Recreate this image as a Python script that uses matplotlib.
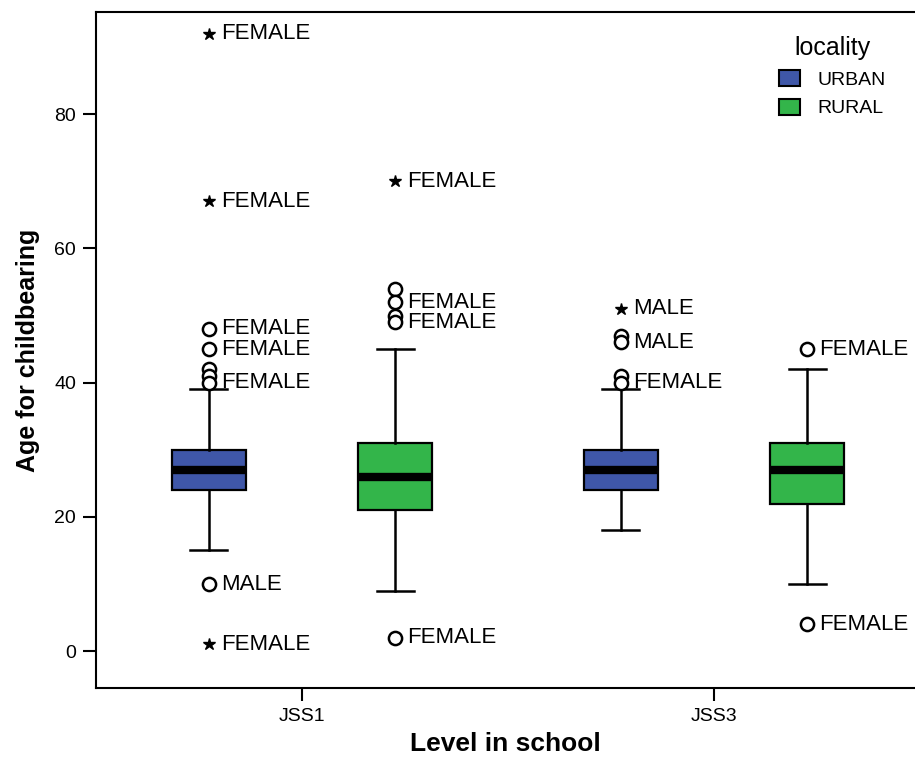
import matplotlib.pyplot as plt
from matplotlib.patches import Patch

plt.rcParams['font.family'] = ['Liberation Sans', 'DejaVu Sans']

# niveles y localidades
niveles = ['JSS1', 'JSS3']
localidades = ['URBAN', 'RURAL']
colores = ['#3F57A8', '#33B54A']

# resumen de cajas: (nivel, localidad) -> whislo, q1, med, q3, whishi
cajas = {
    (0, 0): (15, 24, 27, 30, 39),
    (0, 1): (9, 21, 26, 31, 45),
    (1, 0): (18, 24, 27, 30, 39),
    (1, 1): (10, 22, 27, 31, 42),
}

# atipicos: (nivel, localidad, valor, tipo, etiqueta)
atipicos = [
    (0, 0, 92, 'ext', 'FEMALE'),
    (0, 0, 67, 'ext', 'FEMALE'),
    (0, 0, 48, 'out', 'FEMALE'),
    (0, 0, 45, 'out', 'FEMALE'),
    (0, 0, 42, 'out', ''),
    (0, 0, 41, 'out', ''),
    (0, 0, 40, 'out', 'FEMALE'),
    (0, 0, 10, 'out', 'MALE'),
    (0, 0, 1, 'ext', 'FEMALE'),
    (0, 1, 70, 'ext', 'FEMALE'),
    (0, 1, 54, 'out', ''),
    (0, 1, 52, 'out', 'FEMALE'),
    (0, 1, 50, 'out', ''),
    (0, 1, 49, 'out', 'FEMALE'),
    (0, 1, 2, 'out', 'FEMALE'),
    (1, 0, 51, 'ext', 'MALE'),
    (1, 0, 47, 'out', ''),
    (1, 0, 46, 'out', 'MALE'),
    (1, 0, 41, 'out', ''),
    (1, 0, 40, 'out', 'FEMALE'),
    (1, 1, 45, 'out', 'FEMALE'),
    (1, 1, 4, 'out', 'FEMALE'),
]

desplaz = [-0.226, 0.226]
ancho = 0.18

fig = plt.figure(figsize=(9.15, 7.57), dpi=100)
ax = fig.add_axes([0.105, 0.091, 0.895, 0.893])

stats = []
posiciones = []
for (n, l), (wlo, q1, med, q3, whi) in cajas.items():
    stats.append({'whislo': wlo, 'q1': q1, 'med': med, 'q3': q3, 'whishi': whi, 'fliers': []})
    posiciones.append(n + desplaz[l])

bp = ax.bxp(stats, positions=posiciones, widths=ancho, patch_artist=True,
            showfliers=False,
            boxprops=dict(linewidth=1.6, edgecolor='black'),
            medianprops=dict(color='black', linewidth=6, solid_capstyle='butt'),
            whiskerprops=dict(color='black', linewidth=1.8),
            capprops=dict(color='black', linewidth=1.8),
            capwidths=ancho / 2)
for caja, (n, l) in zip(bp['boxes'], cajas.keys()):
    caja.set_facecolor(colores[l])

for n, l, v, tipo, etiqueta in atipicos:
    x = n + desplaz[l]
    if tipo == 'out':
        ax.plot(x, v, marker='o', markersize=9.5, markerfacecolor='white',
                markeredgecolor='black', markeredgewidth=1.8, linestyle='none', zorder=4)
    else:
        ax.plot(x, v, marker='*', markersize=9, color='black', linestyle='none', zorder=4)
    if etiqueta:
        ax.annotate(etiqueta, (x, v), xytext=(8.5, 0), textcoords='offset points',
                    va='center', ha='left', fontsize=16)

ax.set_xlim(-0.5, 1.488)
ax.set_ylim(-5.5, 95.2)
ax.set_xticks([0, 1])
ax.set_xticklabels(niveles)
ax.set_yticks([0, 20, 40, 60, 80])
ax.tick_params(axis='both', direction='out', length=9.5, width=1.5, labelsize=14, pad=5)

for lado in ['left', 'bottom', 'top']:
    ax.spines[lado].set_linewidth(1.5)
ax.spines['right'].set_visible(False)

ax.set_xlabel('Level in school', fontsize=19, fontweight='bold', labelpad=5)
ax.set_ylabel('Age for childbearing', fontsize=18, fontweight='bold', labelpad=10)

manijas = [Patch(facecolor=c, edgecolor='black', linewidth=1.5, label=t)
           for c, t in zip(colores, localidades)]
ley = ax.legend(handles=manijas, title='locality', loc='upper left',
                bbox_to_anchor=(0.812, 0.99), frameon=False, fontsize=14,
                title_fontsize=18, handlelength=1.1, handleheight=0.9,
                handletextpad=0.9, labelspacing=0.5)

fig.savefig('out.png', dpi=100, facecolor='white')
